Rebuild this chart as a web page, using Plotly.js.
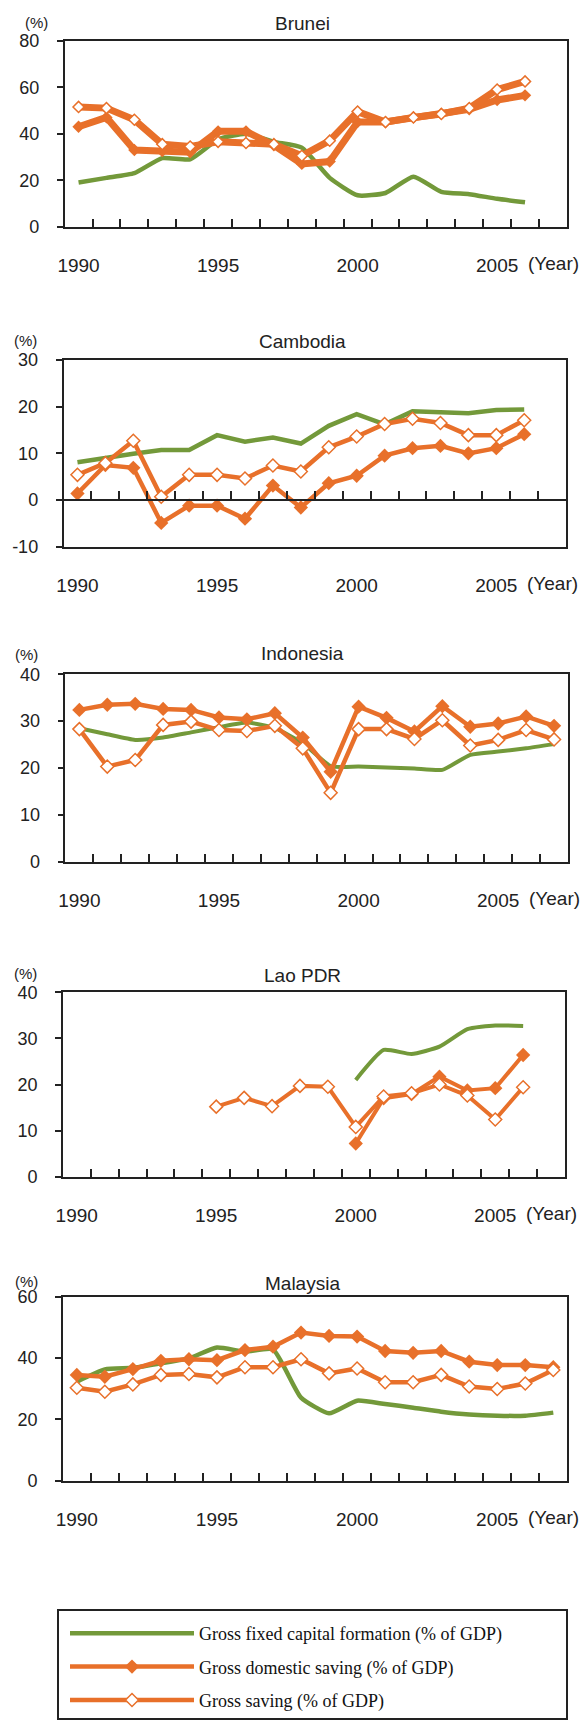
<!DOCTYPE html>
<html><head><meta charset="utf-8">
<script src="https://cdn.plot.ly/plotly-3.0.1.min.js"></script>
<style>html,body{margin:0;padding:0;background:#fff}</style>
</head><body>
<div id="chart" style="width:586px;height:1721px"></div>
<script>
// ---------- data ----------
const years = [1990,1991,1992,1993,1994,1995,1996,1997,1998,1999,2000,2001,2002,2003,2004,2005,2006,2007];
const xTickText = ['1990','','','','','1995','','','','','2000','','','','','2005','',''];
const seriesNames = ['Gross fixed capital formation (% of GDP)', 'Gross domestic saving (% of GDP)', 'Gross saving (% of GDP)'];
const countryNames = ['Brunei', 'Cambodia', 'Indonesia', 'Lao PDR', 'Malaysia'];

const bruneiGFCF = [19, 21, 23, 29.5, 29, 37.5, 40, 36.5, 34, 21, 13.5, 14.5, 21.5, 15, 14, 12, 10.5, null];
const bruneiGDS  = [43, 47, 33, 32.5, 32, 41, 41, 35, 27, 28, 45, 45, 47, 48.5, 50.5, 54.5, 56.5, null];
const bruneiGS   = [51.5, 51, 46, 35.5, 34.5, 36.5, 36, 35.5, 30.5, 37, 49.5, 45, 47, 48.5, 51, 59, 62.5, null];

const cambodiaGFCF = [8.1, 9.1, 9.9, 10.7, 10.7, 13.9, 12.5, 13.4, 12.1, 15.9, 18.4, 16.2, 19, 18.8, 18.6, 19.3, 19.4, null];
const cambodiaGDS  = [1.4, 7.5, 6.9, -4.9, -1.2, -1.2, -4, 3.1, -1.6, 3.6, 5.2, 9.5, 11.1, 11.6, 10, 11.1, 14.1, null];
const cambodiaGS   = [5.4, 7.9, 12.7, 0.7, 5.4, 5.4, 4.6, 7.4, 6.1, 11.3, 13.6, 16.3, 17.4, 16.5, 13.9, 13.9, 17.1, null];

const indonesiaGFCF = [28.5, 27.2, 26, 26.5, 27.6, 28.7, 29.7, 28.5, 25.3, 20.4, 20.3, 20.1, 19.9, 19.6, 22.8, 23.5, 24.2, 25.1];
const indonesiaGDS  = [32.4, 33.5, 33.7, 32.6, 32.4, 30.8, 30.4, 31.7, 26.5, 19.2, 33.1, 30.7, 27.8, 33.2, 28.8, 29.5, 31, 29];
const indonesiaGS   = [28.3, 20.3, 21.7, 29.2, 29.9, 28.1, 27.9, 29, 24.2, 14.7, 28.3, 28.3, 26.2, 30.2, 24.8, 26, 28.1, 26.1];

const laoGFCF = [null, null, null, null, null, null, null, null, null, null, 21, 27.5, 26.6, 28.2, 32, 32.8, 32.7, null];
const laoGDS  = [null, null, null, null, null, null, null, null, null, null, 7.2, 17, 17.9, 21.7, 18.7, 19.2, 26.4, null];
const laoGS   = [null, null, null, null, null, 15.2, 17.1, 15.3, 19.7, 19.5, 10.8, 17.4, 18.1, 20, 17.6, 12.4, 19.4, null];

const malaysiaGFCF = [32.3, 36.3, 36.8, 38.3, 39.9, 43.4, 42.1, 42.8, 27.1, 22, 26.1, 25, 23.8, 22.5, 21.6, 21.2, 21.2, 22.2];
const malaysiaGDS  = [34.5, 33.9, 36.4, 39.1, 39.6, 39.3, 42.6, 43.7, 48.3, 47.2, 47, 42.3, 41.7, 42.3, 38.8, 37.7, 37.7, 37];
const malaysiaGS   = [30.3, 29, 31.4, 34.5, 34.8, 33.7, 37, 37, 39.6, 35, 36.6, 32.1, 32.1, 34.5, 30.7, 29.9, 31.7, 36.1];

const bruneiYTicks = [0, 20, 40, 60, 80];
const cambodiaYTicks = [-10, 0, 10, 20, 30];
const cambodiaYTickText = ['-10', '0', '10', '20', '30'];
const indonesiaYTicks = [0, 10, 20, 30, 40];
const laoYTicks = [0, 10, 20, 30, 40];
const malaysiaYTicks = [0, 20, 40, 60];

// ---------- styling / layout ----------
const W = 586, H = 1721;
const ORANGE = '#E8702A', GREEN = '#73993A', AX = '#222';
const SANS = 'Liberation Sans, Arial, sans-serif';
const SERIF = 'Liberation Serif, Times New Roman, serif';
const px = v => v / W;
const py = v => 1 - v / H;

const panels = [
  {name: countryNames[0], gfcf: bruneiGFCF, gds: bruneiGDS, gs: bruneiGS, yr: [0, 80], yt: bruneiYTicks, ytt: bruneiYTicks.map(String),
   x0: 64.6, x1: 566.9, top: 40.7, bot: 226.7, titleY: 23, pctX: 36, pctY: 22, ow: 7, gw: 4.5, ms: 8.5, spline: true},
  {name: countryNames[1], gfcf: cambodiaGFCF, gds: cambodiaGDS, gs: cambodiaGS, yr: [-10, 30], yt: cambodiaYTicks, ytt: cambodiaYTickText,
   x0: 63.5, x1: 566.1, top: 360, bot: 546.7, titleY: 341, pctX: 25, pctY: 340, ow: 4.5, gw: 4.5, ms: 10, spline: false},
  {name: countryNames[2], gfcf: indonesiaGFCF, gds: indonesiaGDS, gs: indonesiaGS, yr: [0, 40], yt: indonesiaYTicks, ytt: indonesiaYTicks.map(String),
   x0: 65.4, x1: 568, top: 674.3, bot: 861.7, titleY: 653, pctX: 26, pctY: 654, ow: 4.5, gw: 4, ms: 10, spline: true},
  {name: countryNames[3], gfcf: laoGFCF, gds: laoGDS, gs: laoGS, yr: [0, 40], yt: laoYTicks, ytt: laoYTicks.map(String),
   x0: 62.8, x1: 565, top: 992.3, bot: 1176.7, titleY: 975, pctX: 25, pctY: 973, ow: 4, gw: 4, ms: 10, spline: true},
  {name: countryNames[4], gfcf: malaysiaGFCF, gds: malaysiaGDS, gs: malaysiaGS, yr: [0, 60], yt: malaysiaYTicks, ytt: malaysiaYTicks.map(String),
   x0: 62.8, x1: 567.3, top: 1296.7, bot: 1480.7, titleY: 1283, pctX: 26, pctY: 1281, ow: 4.5, gw: 4.5, ms: 10, spline: true}
];

const data = [];
const layout = {
  width: W, height: H,
  margin: {l: 0, r: 0, t: 0, b: 0},
  paper_bgcolor: '#fff', plot_bgcolor: '#fff',
  font: {family: SANS, color: AX},
  showlegend: true,
  legend: {
    x: px(65), xanchor: 'left', y: py(1615), yanchor: 'top',
    bgcolor: 'rgba(0,0,0,0)', borderwidth: 0,
    font: {family: SERIF, size: 18, color: '#111'},
    itemwidth: 124, tracegroupgap: 7, traceorder: 'grouped'
  },
  annotations: [],
  shapes: [{
    type: 'rect', xref: 'paper', yref: 'paper',
    x0: px(58), x1: px(567), y0: py(1610), y1: py(1719),
    line: {color: AX, width: 2}, fillcolor: 'rgba(0,0,0,0)'
  }]
};

const legendIdx = 4;
panels.forEach((p, i) => {
  const s = i === 0 ? '' : String(i + 1);
  const xa = 'x' + s, ya = 'y' + s;
  data.push({
    x: years, y: p.gfcf, xaxis: xa, yaxis: ya, mode: 'lines', name: seriesNames[0],
    legendgroup: 'gfcf', showlegend: i === legendIdx, hoverinfo: 'x+y',
    line: {color: GREEN, width: p.gw, shape: p.spline ? 'spline' : 'linear', smoothing: 0.5}
  });
  data.push({
    x: years, y: p.gds, xaxis: xa, yaxis: ya, mode: 'lines+markers', name: seriesNames[1],
    legendgroup: 'gds', showlegend: i === legendIdx,
    line: {color: ORANGE, width: p.ow},
    marker: {symbol: 'diamond', size: p.ms + 1, color: ORANGE, line: {width: 0}}
  });
  data.push({
    x: years, y: p.gs, xaxis: xa, yaxis: ya, mode: 'lines+markers', name: seriesNames[2],
    legendgroup: 'gs', showlegend: i === legendIdx,
    line: {color: ORANGE, width: p.ow},
    marker: {symbol: 'diamond', size: p.ms, color: '#fff', line: {color: ORANGE, width: 1.5}}
  });

  const isCam = i === 1;
  layout['xaxis' + s] = {
    domain: [px(p.x0), px(p.x1)], anchor: ya,
    type: 'category', categoryorder: 'array', categoryarray: years, range: [-0.5, years.length - 0.5],
    tickmode: 'array', tickvals: years, ticktext: xTickText, tickson: 'boundaries', tickangle: 0,
    ticks: isCam ? '' : 'inside', ticklen: 8, tickwidth: 1.5, tickcolor: AX,
    showline: true, mirror: true, linecolor: AX, linewidth: 1.5,
    showgrid: false, zeroline: false,
    tickfont: {family: SANS, size: 19, color: AX}, ticklabelstandoff: 21, fixedrange: true
  };
  layout['yaxis' + s] = {
    domain: [py(p.bot), py(p.top)], anchor: xa, range: p.yr,
    tickmode: 'array', tickvals: p.yt, ticktext: p.ytt,
    ticks: 'outside', ticklen: 6, tickwidth: 1.5, tickcolor: AX,
    showline: true, mirror: true, linecolor: AX, linewidth: 1.5,
    showgrid: false, zeroline: false,
    tickfont: {family: SANS, size: 18, color: AX}, ticklabelstandoff: 14, fixedrange: true
  };

  layout.annotations.push({
    text: p.name, xref: 'paper', yref: 'paper', x: px(302), y: py(p.titleY),
    xanchor: 'center', yanchor: 'middle', showarrow: false,
    font: {family: SANS, size: 19, color: '#222'}
  });
  layout.annotations.push({
    text: '(%)', xref: 'paper', yref: 'paper', x: px(p.pctX), y: py(p.pctY),
    xanchor: 'center', yanchor: 'middle', showarrow: false,
    font: {family: SANS, size: 15, color: AX}
  });
  layout.annotations.push({
    text: '(Year)', xref: xa, yref: ya + ' domain', x: years.indexOf(2005), y: 0,
    xanchor: 'left', yanchor: 'middle', xshift: 29, yshift: -37, showarrow: false,
    font: {family: SANS, size: 19, color: AX}
  });
});

// Cambodia: horizontal axis line with ticks crossing at zero
const cam = panels[1];
const zeroFrac = (0 - cam.yr[0]) / (cam.yr[1] - cam.yr[0]);
layout.xaxis6 = {
  overlaying: 'x2', anchor: 'free',
  position: py(cam.bot) + (py(cam.top) - py(cam.bot)) * zeroFrac,
  type: 'category', categoryorder: 'array', categoryarray: years, range: [-0.5, years.length - 0.5],
  tickmode: 'array', tickvals: years, tickson: 'boundaries',
  ticks: 'inside', ticklen: 8, tickwidth: 1.5, tickcolor: AX, showticklabels: false,
  showline: true, linecolor: AX, linewidth: 1.5, showgrid: false, zeroline: false, fixedrange: true
};
data.push({x: [], y: [], xaxis: 'x6', yaxis: 'y2', mode: 'lines', showlegend: false, hoverinfo: 'skip'});

Plotly.newPlot('chart', data, layout, {displayModeBar: false});
</script>
</body></html>
